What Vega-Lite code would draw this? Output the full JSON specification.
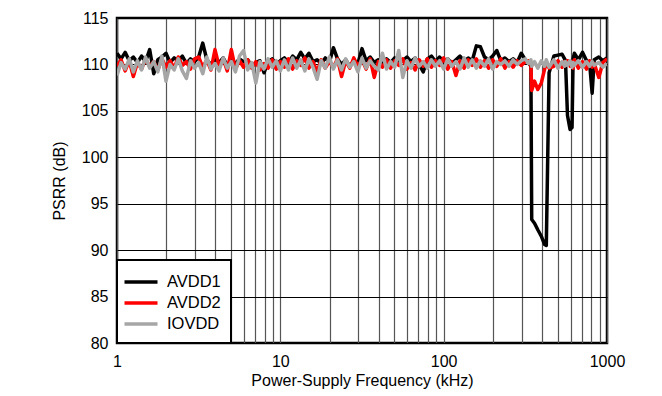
{
  "$schema": "https://vega.github.io/schema/vega-lite/v6.json",
  "width": 490,
  "height": 325,
  "autosize": {"type": "none"},
  "padding": {"left": 117, "top": 18, "right": 55, "bottom": 53},
  "background": "white",
  "config": {
    "font": "Liberation Sans",
    "view": {"stroke": "black", "strokeWidth": 2.5},
    "legend": {"strokeWidth": 2},
    "axis": {"labelFont": "Liberation Sans", "titleFont": "Liberation Sans", "labelFontSize": 16, "titleFontSize": 16, "labelColor": "black", "titleColor": "black", "titleFontWeight": "normal", "ticks": false, "domain": false}
  },
  "data": {
    "values": [
      {"f":1,"AVDD1":111.2,"AVDD2":109.8,"IOVDD":108.8},
      {"f":1.059,"AVDD1":110.6,"AVDD2":110.5,"IOVDD":110.2},
      {"f":1.122,"AVDD1":111.3,"AVDD2":109.3,"IOVDD":109.5},
      {"f":1.189,"AVDD1":110.4,"AVDD2":110.4,"IOVDD":110.6},
      {"f":1.259,"AVDD1":110.8,"AVDD2":108.7,"IOVDD":109.2},
      {"f":1.334,"AVDD1":110.2,"AVDD2":110.2,"IOVDD":110.4},
      {"f":1.413,"AVDD1":110.9,"AVDD2":109.5,"IOVDD":109.4},
      {"f":1.496,"AVDD1":110.3,"AVDD2":110.6,"IOVDD":110.8},
      {"f":1.585,"AVDD1":111.6,"AVDD2":109.8,"IOVDD":109.6},
      {"f":1.679,"AVDD1":109.0,"AVDD2":110.3,"IOVDD":110.3},
      {"f":1.778,"AVDD1":110.5,"AVDD2":109.4,"IOVDD":109.2},
      {"f":1.884,"AVDD1":110.8,"AVDD2":110.6,"IOVDD":110.9},
      {"f":1.995,"AVDD1":111.2,"AVDD2":109.7,"IOVDD":108.2},
      {"f":2.113,"AVDD1":110.2,"AVDD2":110.4,"IOVDD":110.0},
      {"f":2.239,"AVDD1":110.7,"AVDD2":109.6,"IOVDD":109.4},
      {"f":2.371,"AVDD1":110.4,"AVDD2":110.8,"IOVDD":110.6},
      {"f":2.512,"AVDD1":110.9,"AVDD2":109.9,"IOVDD":109.3},
      {"f":2.661,"AVDD1":110.1,"AVDD2":110.3,"IOVDD":108.5},
      {"f":2.818,"AVDD1":110.6,"AVDD2":109.5,"IOVDD":110.4},
      {"f":2.985,"AVDD1":110.3,"AVDD2":110.6,"IOVDD":109.6},
      {"f":3.162,"AVDD1":110.8,"AVDD2":110.8,"IOVDD":110.2},
      {"f":3.35,"AVDD1":112.3,"AVDD2":109.7,"IOVDD":109.0},
      {"f":3.548,"AVDD1":110.5,"AVDD2":110.5,"IOVDD":110.8},
      {"f":3.758,"AVDD1":110.0,"AVDD2":109.4,"IOVDD":109.5},
      {"f":3.981,"AVDD1":110.6,"AVDD2":111.6,"IOVDD":110.1},
      {"f":4.217,"AVDD1":110.2,"AVDD2":109.8,"IOVDD":109.3},
      {"f":4.467,"AVDD1":110.7,"AVDD2":110.6,"IOVDD":110.7},
      {"f":4.732,"AVDD1":109.9,"AVDD2":109.3,"IOVDD":109.6},
      {"f":5.012,"AVDD1":110.4,"AVDD2":111.6,"IOVDD":110.3},
      {"f":5.309,"AVDD1":110.1,"AVDD2":109.5,"IOVDD":109.2},
      {"f":5.623,"AVDD1":110.6,"AVDD2":110.4,"IOVDD":110.9},
      {"f":5.957,"AVDD1":110.3,"AVDD2":109.7,"IOVDD":111.5},
      {"f":6.31,"AVDD1":110.5,"AVDD2":110.5,"IOVDD":109.4},
      {"f":6.683,"AVDD1":109.8,"AVDD2":109.6,"IOVDD":110.2},
      {"f":7.079,"AVDD1":110.2,"AVDD2":110.3,"IOVDD":108.0},
      {"f":7.499,"AVDD1":110.4,"AVDD2":109.4,"IOVDD":110.3},
      {"f":7.943,"AVDD1":109.1,"AVDD2":110.1,"IOVDD":109.5},
      {"f":8.414,"AVDD1":110.3,"AVDD2":109.6,"IOVDD":110.6},
      {"f":8.913,"AVDD1":110.6,"AVDD2":110.5,"IOVDD":109.7},
      {"f":9.441,"AVDD1":110.0,"AVDD2":109.5,"IOVDD":110.4},
      {"f":10,"AVDD1":110.4,"AVDD2":110.3,"IOVDD":109.3},
      {"f":10.59,"AVDD1":110.7,"AVDD2":109.7,"IOVDD":110.5},
      {"f":11.22,"AVDD1":110.2,"AVDD2":110.6,"IOVDD":109.4},
      {"f":11.89,"AVDD1":110.9,"AVDD2":109.5,"IOVDD":110.7},
      {"f":12.59,"AVDD1":110.5,"AVDD2":110.4,"IOVDD":109.6},
      {"f":13.34,"AVDD1":111.3,"AVDD2":109.9,"IOVDD":110.5},
      {"f":14.13,"AVDD1":110.6,"AVDD2":110.7,"IOVDD":109.3},
      {"f":14.96,"AVDD1":111.2,"AVDD2":109.6,"IOVDD":110.6},
      {"f":15.85,"AVDD1":110.3,"AVDD2":110.3,"IOVDD":109.7},
      {"f":16.79,"AVDD1":110.5,"AVDD2":109.2,"IOVDD":108.4},
      {"f":17.78,"AVDD1":110.1,"AVDD2":110.5,"IOVDD":110.4},
      {"f":18.84,"AVDD1":110.7,"AVDD2":109.6,"IOVDD":109.6},
      {"f":19.95,"AVDD1":110.2,"AVDD2":110.3,"IOVDD":110.8},
      {"f":21.13,"AVDD1":111.8,"AVDD2":109.7,"IOVDD":109.5},
      {"f":22.39,"AVDD1":110.6,"AVDD2":110.6,"IOVDD":110.5},
      {"f":23.71,"AVDD1":110.0,"AVDD2":108.7,"IOVDD":109.4},
      {"f":25.12,"AVDD1":110.5,"AVDD2":110.4,"IOVDD":110.6},
      {"f":26.61,"AVDD1":109.8,"AVDD2":109.6,"IOVDD":109.7},
      {"f":28.18,"AVDD1":110.4,"AVDD2":110.7,"IOVDD":110.3},
      {"f":29.85,"AVDD1":110.1,"AVDD2":109.8,"IOVDD":109.2},
      {"f":31.62,"AVDD1":111.7,"AVDD2":110.5,"IOVDD":110.7},
      {"f":33.5,"AVDD1":110.4,"AVDD2":109.5,"IOVDD":109.6},
      {"f":35.48,"AVDD1":110.8,"AVDD2":110.6,"IOVDD":110.4},
      {"f":37.58,"AVDD1":110.2,"AVDD2":108.6,"IOVDD":109.8},
      {"f":39.81,"AVDD1":110.5,"AVDD2":110.3,"IOVDD":109.4},
      {"f":42.17,"AVDD1":110.0,"AVDD2":109.7,"IOVDD":111.2},
      {"f":44.67,"AVDD1":110.6,"AVDD2":110.5,"IOVDD":109.5},
      {"f":47.32,"AVDD1":110.2,"AVDD2":109.6,"IOVDD":110.3},
      {"f":50.12,"AVDD1":110.7,"AVDD2":110.4,"IOVDD":109.7},
      {"f":53.09,"AVDD1":110.1,"AVDD2":109.9,"IOVDD":111.5},
      {"f":56.23,"AVDD1":110.4,"AVDD2":110.6,"IOVDD":108.6},
      {"f":59.57,"AVDD1":110.8,"AVDD2":109.5,"IOVDD":110.4},
      {"f":63.1,"AVDD1":110.3,"AVDD2":110.2,"IOVDD":109.6},
      {"f":66.83,"AVDD1":110.7,"AVDD2":109.4,"IOVDD":110.7},
      {"f":70.79,"AVDD1":110.0,"AVDD2":110.5,"IOVDD":109.8},
      {"f":74.99,"AVDD1":109.2,"AVDD2":109.8,"IOVDD":110.3},
      {"f":79.43,"AVDD1":110.6,"AVDD2":110.6,"IOVDD":109.6},
      {"f":84.14,"AVDD1":110.9,"AVDD2":109.7,"IOVDD":110.5},
      {"f":89.13,"AVDD1":110.3,"AVDD2":110.4,"IOVDD":109.8},
      {"f":94.41,"AVDD1":110.8,"AVDD2":109.9,"IOVDD":110.4},
      {"f":100,"AVDD1":110.2,"AVDD2":110.7,"IOVDD":109.5},
      {"f":105.9,"AVDD1":110.6,"AVDD2":109.5,"IOVDD":110.6},
      {"f":112.2,"AVDD1":110.1,"AVDD2":110.3,"IOVDD":109.8},
      {"f":118.9,"AVDD1":110.5,"AVDD2":108.8,"IOVDD":110.3},
      {"f":125.9,"AVDD1":110.9,"AVDD2":110.4,"IOVDD":109.5},
      {"f":133.4,"AVDD1":110.3,"AVDD2":109.6,"IOVDD":110.7},
      {"f":141.3,"AVDD1":110.7,"AVDD2":110.5,"IOVDD":109.7},
      {"f":149.6,"AVDD1":110.4,"AVDD2":109.9,"IOVDD":110.5},
      {"f":158.5,"AVDD1":112.0,"AVDD2":110.6,"IOVDD":109.6},
      {"f":167.9,"AVDD1":111.9,"AVDD2":109.7,"IOVDD":110.4},
      {"f":177.8,"AVDD1":110.8,"AVDD2":110.4,"IOVDD":109.8},
      {"f":188.4,"AVDD1":110.5,"AVDD2":109.6,"IOVDD":110.6},
      {"f":199.5,"AVDD1":110.9,"AVDD2":110.5,"IOVDD":109.5},
      {"f":211.3,"AVDD1":111.5,"AVDD2":109.8,"IOVDD":110.3},
      {"f":223.9,"AVDD1":110.4,"AVDD2":110.6,"IOVDD":110.0},
      {"f":237.1,"AVDD1":110.7,"AVDD2":109.6,"IOVDD":110.4},
      {"f":251.2,"AVDD1":110.3,"AVDD2":110.3,"IOVDD":109.8},
      {"f":266.1,"AVDD1":110.6,"AVDD2":109.7,"IOVDD":110.5},
      {"f":281.8,"AVDD1":110.2,"AVDD2":110.4,"IOVDD":110.0},
      {"f":298.5,"AVDD1":111.2,"AVDD2":109.9,"IOVDD":110.4},
      {"f":316.2,"AVDD1":110.5,"AVDD2":110.3,"IOVDD":110.6},
      {"f":330,"AVDD1":110.2,"AVDD2":110.4,"IOVDD":110.1},
      {"f":342,"AVDD1":109.8,"AVDD2":109.9,"IOVDD":110.5},
      {"f":346,"AVDD1":93.3,"AVDD2":107.2,"IOVDD":109.8},
      {"f":360,"AVDD1":92.9,"AVDD2":108.2,"IOVDD":110.3},
      {"f":377,"AVDD1":92.2,"AVDD2":107.3,"IOVDD":109.6},
      {"f":396,"AVDD1":91.5,"AVDD2":108.0,"IOVDD":110.4},
      {"f":415,"AVDD1":90.6,"AVDD2":109.5,"IOVDD":109.8},
      {"f":425,"AVDD1":90.5,"AVDD2":110.2,"IOVDD":110.5},
      {"f":442,"AVDD1":109.1,"AVDD2":109.6,"IOVDD":109.7},
      {"f":473,"AVDD1":110.9,"AVDD2":109.8,"IOVDD":110.5},
      {"f":501,"AVDD1":111.0,"AVDD2":110.4,"IOVDD":109.6},
      {"f":531,"AVDD1":111.1,"AVDD2":109.7,"IOVDD":110.3},
      {"f":550,"AVDD1":110.6,"AVDD2":110.3,"IOVDD":109.8},
      {"f":557,"AVDD1":110.4,"AVDD2":109.9,"IOVDD":110.3},
      {"f":573,"AVDD1":104.5,"AVDD2":110.4,"IOVDD":109.9},
      {"f":594,"AVDD1":103.0,"AVDD2":109.8,"IOVDD":110.4},
      {"f":611,"AVDD1":103.2,"AVDD2":110.3,"IOVDD":109.7},
      {"f":620,"AVDD1":110.6,"AVDD2":109.6,"IOVDD":110.2},
      {"f":631,"AVDD1":111.2,"AVDD2":110.5,"IOVDD":109.9},
      {"f":668,"AVDD1":110.5,"AVDD2":109.6,"IOVDD":110.4},
      {"f":708,"AVDD1":111.3,"AVDD2":110.3,"IOVDD":109.7},
      {"f":750,"AVDD1":110.4,"AVDD2":109.5,"IOVDD":110.3},
      {"f":782,"AVDD1":110.2,"AVDD2":110.4,"IOVDD":109.8},
      {"f":811,"AVDD1":106.9,"AVDD2":109.7,"IOVDD":110.3},
      {"f":835,"AVDD1":110.5,"AVDD2":110.1,"IOVDD":109.9},
      {"f":891,"AVDD1":110.8,"AVDD2":108.6,"IOVDD":110.2},
      {"f":944,"AVDD1":110.4,"AVDD2":110.2,"IOVDD":109.7},
      {"f":1000,"AVDD1":110.7,"AVDD2":110.6,"IOVDD":110.1}
    ]
  },
  "transform": [
    {"fold": ["AVDD1", "AVDD2", "IOVDD"], "as": ["series", "psrr"]}
  ],
  "mark": {"type": "line", "strokeWidth": 3.5, "strokeJoin": "round", "clip": true},
  "encoding": {
    "x": {
      "field": "f", "type": "quantitative",
      "scale": {"type": "log", "domain": [1, 1000], "nice": false},
      "axis": {
        "title": "Power-Supply Frequency (kHz)",
        "values": [1,2,3,4,5,6,7,8,9,10,20,30,40,50,60,70,80,90,100,200,300,400,500,600,700,800,900,1000],
        "format": "d",
        "labelExpr": "indexof([1,10,100,1000], datum.value) >= 0 ? datum.label : ''",
        "labelOverlap": false,
        "labelFlush": false,
        "labelPadding": 10,
        "titlePadding": 3,
        "grid": true, "gridColor": "#555555", "gridWidth": 1.2, "gridOpacity": 1
      }
    },
    "y": {
      "field": "psrr", "type": "quantitative",
      "scale": {"domain": [80, 115], "nice": false, "zero": false},
      "axis": {
        "title": "PSRR (dB)",
        "values": [80, 85, 90, 95, 100, 105, 110, 115],
        "labelPadding": 9,
        "titlePadding": 14,
        "grid": true, "gridColor": "black", "gridWidth": 1, "gridOpacity": 1
      }
    },
    "color": {
      "field": "series", "type": "nominal",
      "scale": {"domain": ["AVDD1", "AVDD2", "IOVDD"], "range": ["#000000", "#ff0000", "#a6a6a6"]},
      "legend": {
        "title": null,
        "orient": "bottom-left",
        "offset": 0,
        "padding": 10,
        "fillColor": "white",
        "strokeColor": "black",
        "symbolType": "M-1.65,0H1.65",
        "symbolSize": 400,
        "symbolOffset": 2,
        "symbolStrokeWidth": 3.5,
        "labelFontSize": 16.5,
        "labelFont": "Liberation Sans",
        "labelColor": "black",
        "labelOffset": 14,
        "rowPadding": -7.5
      }
    }
  }
}
